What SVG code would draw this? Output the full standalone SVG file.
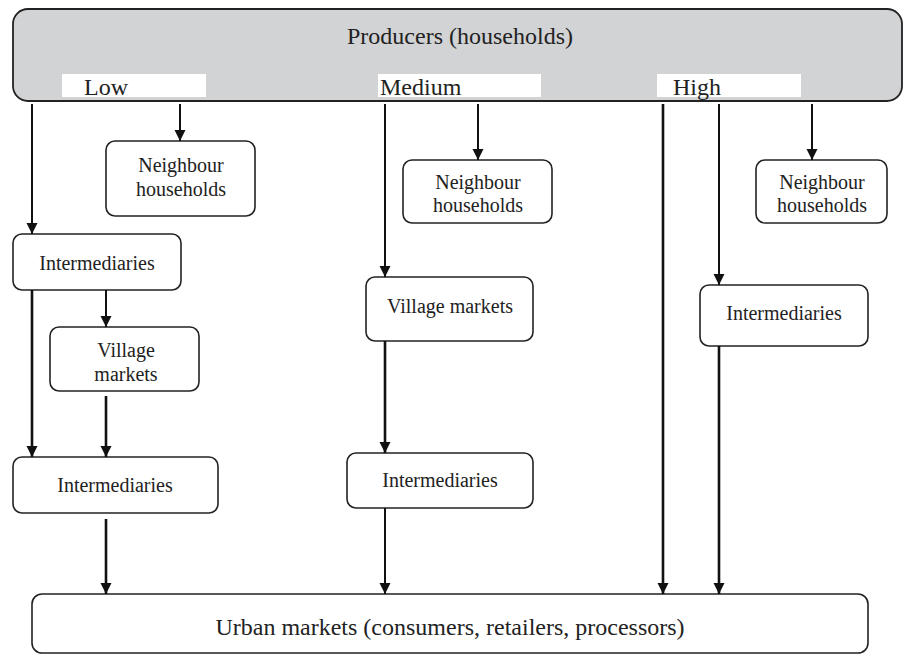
<svg xmlns="http://www.w3.org/2000/svg" width="904" height="656" viewBox="0 0 904 656">
<defs>
<marker id="ah" markerUnits="userSpaceOnUse" markerWidth="12" markerHeight="12" viewBox="0 0 12 12" refX="11" refY="6" orient="auto">
<path d="M0,0.5 L11,6 L0,11.5 z" fill="#111"/>
</marker>
<style>
.box{fill:#fff;stroke:#222;stroke-width:1.6}
.top{fill:#d2d3d5;stroke:#222;stroke-width:1.8}
.lbl{fill:#fff}
.t20{font-size:20px;text-anchor:middle}
.t24{font-size:24px}
.c{text-anchor:middle}
.ln{stroke:#111;stroke-width:2;fill:none}
.lt{stroke:#111;stroke-width:2.6;fill:none}
</style>
</defs>
<rect width="904" height="656" fill="#fff"/>

<g font-family="Liberation Serif, Times New Roman, DejaVu Serif, serif" fill="#222">
<g id="producers">
<rect class="top" x="13" y="9" width="889" height="92" rx="15"/>
<text class="t24 c" x="460" y="44">Producers (households)</text>
<rect class="lbl" x="62" y="74" width="144" height="23"/>
<text class="t24" x="84" y="95">Low</text>
<rect class="lbl" x="378" y="74" width="163" height="23"/>
<text class="t24" x="380" y="95">Medium</text>
<rect class="lbl" x="657" y="74" width="144" height="23"/>
<text class="t24" x="673" y="95">High</text>
</g>

<g id="neighbour-low">
<rect class="box" x="106" y="141" width="149" height="75" rx="9"/>
<text class="t20" x="181" y="172">Neighbour</text>
<text class="t20" x="181" y="196">households</text>
</g>
<g id="neighbour-medium">
<rect class="box" x="403" y="160" width="149" height="63" rx="9"/>
<text class="t20" x="478" y="189">Neighbour</text>
<text class="t20" x="478" y="212">households</text>
</g>
<g id="neighbour-high">
<rect class="box" x="756" y="160" width="131" height="63" rx="9"/>
<text class="t20" x="822" y="189">Neighbour</text>
<text class="t20" x="822" y="212">households</text>
</g>

<g id="intermediaries-low-1">
<rect class="box" x="13" y="234" width="168" height="56" rx="9"/>
<text class="t20" x="97" y="270">Intermediaries</text>
</g>
<g id="village-low">
<rect class="box" x="50" y="327" width="149" height="64" rx="9"/>
<text class="t20" x="126" y="357">Village</text>
<text class="t20" x="126" y="381">markets</text>
</g>
<g id="intermediaries-low-2">
<rect class="box" x="13" y="457" width="205" height="56" rx="9"/>
<text class="t20" x="115" y="492">Intermediaries</text>
</g>

<g id="village-medium">
<rect class="box" x="366" y="277" width="167" height="64" rx="9"/>
<text class="t20" x="450" y="313">Village markets</text>
</g>
<g id="intermediaries-medium">
<rect class="box" x="347" y="453" width="186" height="55" rx="9"/>
<text class="t20" x="440" y="487">Intermediaries</text>
</g>

<g id="intermediaries-high">
<rect class="box" x="700" y="285" width="168" height="61" rx="9"/>
<text class="t20" x="784" y="320">Intermediaries</text>
</g>

<g id="urban">
<rect class="box" x="32" y="594" width="836" height="59" rx="10"/>
<text class="t24 c" x="450" y="635">Urban markets (consumers, retailers, processors)</text>
</g>
</g>

<g id="connectors">
<line class="ln" x1="32" y1="104" x2="32" y2="234" marker-end="url(#ah)"/>
<line class="ln" x1="180" y1="104" x2="180" y2="141" marker-end="url(#ah)"/>
<line class="ln" x1="385" y1="104" x2="385" y2="277" marker-end="url(#ah)"/>
<line class="ln" x1="478" y1="104" x2="478" y2="160" marker-end="url(#ah)"/>
<line class="lt" x1="663" y1="104" x2="663" y2="594" marker-end="url(#ah)"/>
<line class="ln" x1="719" y1="104" x2="719" y2="285" marker-end="url(#ah)"/>
<line class="ln" x1="812" y1="104" x2="812" y2="160" marker-end="url(#ah)"/>
<line class="ln" x1="106" y1="290" x2="106" y2="327" marker-end="url(#ah)"/>
<line class="lt" x1="32" y1="290" x2="32" y2="457" marker-end="url(#ah)"/>
<line class="lt" x1="106" y1="396" x2="106" y2="457" marker-end="url(#ah)"/>
<line class="lt" x1="385" y1="341" x2="385" y2="453" marker-end="url(#ah)"/>
<line class="lt" x1="106" y1="519" x2="106" y2="594" marker-end="url(#ah)"/>
<line class="ln" x1="385" y1="508" x2="385" y2="594" marker-end="url(#ah)"/>
<line class="lt" x1="719" y1="346" x2="719" y2="594" marker-end="url(#ah)"/>
</g>
</svg>
